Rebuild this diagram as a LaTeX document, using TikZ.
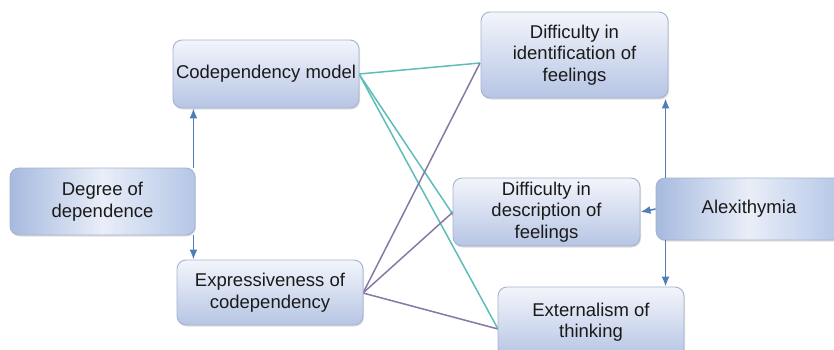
\documentclass[tikz,border=0pt]{standalone}
\usepackage{fontspec}
\setmainfont{Liberation Sans}
\usetikzlibrary{arrows.meta,calc,shadows}
\definecolor{boxtop}{HTML}{F3F5FB}
\definecolor{boxbot}{HTML}{B6C5E4}
\definecolor{boxedge}{HTML}{A3B3D0}
\definecolor{sideA}{HTML}{A6BADF}
\definecolor{sideB}{HTML}{B4C6E6}
\definecolor{midC}{HTML}{E9EEF8}
\definecolor{arrowblue}{HTML}{4F7DBA}
\definecolor{tealline}{HTML}{5DBDB8}
\definecolor{purpleline}{HTML}{8878A6}
\definecolor{txt}{HTML}{1A1A1A}
\tikzset{
  box/.style={draw=boxedge, line width=0.9pt, rounded corners=9pt,
    top color=boxtop, bottom color=boxbot, align=center, inner sep=0pt,
    text=txt, font=\fontsize{18.5}{21.5}\selectfont,
    drop shadow={shadow xshift=1pt, shadow yshift=-1.5pt, opacity=0.25}},
  sidebox/.style={box, left color=sideA, right color=sideB, middle color=midC},
  blue arrow/.style={draw=arrowblue, line width=1.6pt, -{Latex[length=10pt,width=8pt]}},
  tealconn/.style={draw=tealline, line width=1.5pt},
  purpleconn/.style={draw=purpleline, line width=1.5pt}
}
\begin{document}
\begin{tikzpicture}[x=1pt,y=-1pt]
\useasboundingbox (0,0) rectangle (834,349);
% coloured connectors (drawn first, under boxes)
\coordinate (identIn) at (480,63);
\coordinate (descHid) at (472,243);
\coordinate (extIn) at (498,329);
\coordinate (codepOut) at (359,74);
\coordinate (exprOut) at (363,293);
\draw[tealconn] (codepOut) -- (identIn);
\draw[tealconn] (codepOut) -- (descHid);
\draw[tealconn] (codepOut) -- (extIn);
\draw[purpleconn] (exprOut) -- (identIn);
\draw[purpleconn] (exprOut) -- (453,212);
\draw[purpleconn] (exprOut) -- (extIn);
% boxes
\node[sidebox, minimum width=185, minimum height=67] (degree) at (102.5,201.5) {Degree of\\dependence};
\node[box, minimum width=186, minimum height=68] (codep) at (266,74) {Codependency model};
\node[box, minimum width=186, minimum height=65] (expr) at (270,292.5) {Expressiveness of\\codependency};
\node[box, minimum width=187, minimum height=86] (ident) at (574.5,55) {Difficulty in\\identification of\\feelings};
\node[box, minimum width=187, minimum height=68] (desc) at (546.5,212) {Difficulty in\\description of\\feelings};
\node[box, minimum width=186, minimum height=70] (ext) at (591,322) {Externalism of\\thinking};
\node[sidebox, minimum width=186, minimum height=62] (alex) at (749,209) {Alexithymia};
% blue arrows
\coordinate (dtop) at ($(degree.north east)+(-2,0)$);
\coordinate (dbot) at ($(degree.south east)+(-2,0)$);
\draw[blue arrow] (dtop) -- (dtop |- codep.south);
\draw[blue arrow] (dbot) -- (dbot |- expr.north);
\coordinate (atop) at ($(alex.north west)+(10,0)$);
\coordinate (abot) at ($(alex.south west)+(10,0)$);
\draw[blue arrow] (atop) -- (atop |- ident.south);
\draw[blue arrow] (abot) -- (abot |- ext.north);
\draw[blue arrow] (alex.west) -- (desc.east);
\end{tikzpicture}
\end{document}
